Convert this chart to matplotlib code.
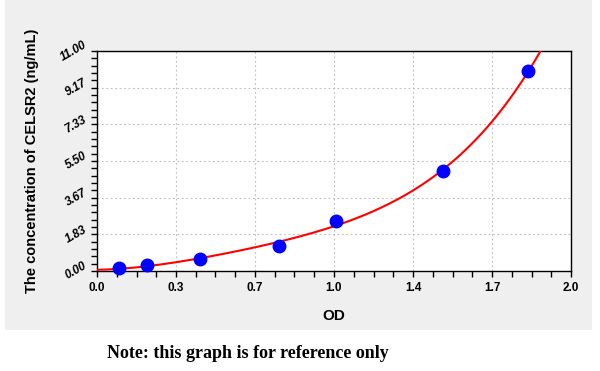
import numpy as np
import matplotlib.pyplot as plt
from matplotlib.patches import Rectangle
from matplotlib.ticker import FixedLocator, MultipleLocator

# Standard curve data (OD vs concentration)
od = [0.094, 0.212, 0.436, 0.768, 1.007, 1.461, 1.820]
conc = [0.156, 0.3125, 0.625, 1.25, 2.5, 5.0, 10.0]

x_ticks = [0, 1/3, 2/3, 1.0, 4/3, 5/3, 2.0]
x_labels = ["0.0", "0.3", "0.7", "1.0", "1.4", "1.7", "2.0"]
y_ticks = [0, 11/6, 22/6, 33/6, 44/6, 55/6, 11.0]
y_labels = ["0.00", "1.83", "3.67", "5.50", "7.33", "9.17", "11.00"]

# fitted curve (4th degree least squares through origin + standards)
fit = np.polyfit([0.0] + od, [0.0] + conc, 4)
xs = np.linspace(0, 1.95, 400)
ys = np.polyval(fit, xs)

fig = plt.figure(figsize=(6, 3.71), dpi=100)
bg = Rectangle((5/600, 1 - 330/371), 587/600, 330/371,
               transform=fig.transFigure, facecolor="#efefef",
               edgecolor="none", zorder=-10)
fig.add_artist(bg)

ax = fig.add_axes([97/600, 1 - 271/371, 474/600, 220/371])
ax.set_zorder(5)
ax.set_facecolor("white")
ax.plot(xs, ys, color="red", lw=1.5, zorder=3)
ax.plot(od, conc, "o", color="blue", ms=9, zorder=4, clip_on=False)

ax.set_xlim(0, 2.0)
ax.set_ylim(0, 11.0)
ax.xaxis.set_major_locator(FixedLocator(x_ticks))
ax.set_xticklabels(x_labels)
ax.xaxis.set_minor_locator(MultipleLocator(1/12))
ax.yaxis.set_major_locator(FixedLocator(y_ticks))
ax.set_yticklabels(y_labels)
ax.yaxis.set_minor_locator(MultipleLocator(11/30))

ax.grid(True, which="major", color="#bbbbbb", linestyle=(0, (1.5, 2.5)), lw=0.8)
ax.tick_params(which="both", direction="out", length=4, width=1, color="black")
ax.tick_params(axis="x", labelsize=8.5, pad=4)
ax.tick_params(axis="y", labelsize=8.5, pad=2)
for lbl in ax.get_xticklabels():
    lbl.set_fontweight("bold")
    lbl.set_family("Liberation Sans")
for lbl in ax.get_yticklabels():
    lbl.set_fontweight("bold")
    lbl.set_fontstyle("italic")
    lbl.set_family("Liberation Sans")
    lbl.set_rotation(30)
    lbl.set_ha("right")
    lbl.set_va("center")
for s in ax.spines.values():
    s.set_linewidth(1)

ax.set_xlabel("OD", fontsize=11, fontweight="bold", family="Liberation Sans", labelpad=11)
ax.set_ylabel("The concentration of CELSR2 (ng/mL)", fontsize=10.5, fontweight="bold",
              family="Liberation Sans", labelpad=14)

fig.text(248/600, 1 - 354/371, "Note: this graph is for reference only",
         ha="center", va="center", fontsize=13, fontweight="bold",
         family="Liberation Serif")

fig.savefig("out.png", dpi=100)
